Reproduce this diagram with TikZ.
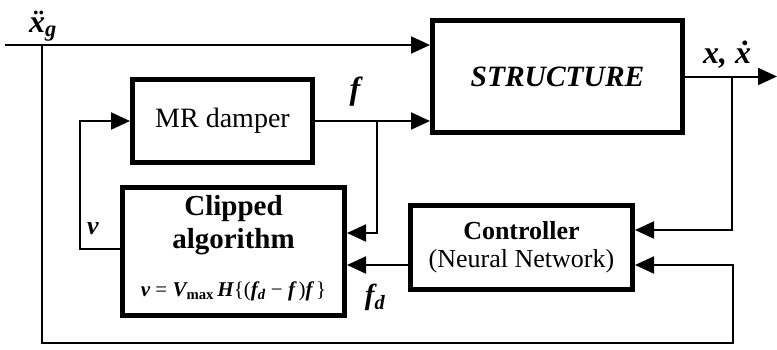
\documentclass[tikz,border=0pt]{standalone}
\usepackage{fontspec}
\setmainfont{Liberation Serif}
\usetikzlibrary{arrows.meta,positioning}
\tikzstyle{block} = [rectangle, 
draw=black, 
line width=5pt, 
inner sep=0pt, 
align=center]
\tikzstyle{arrow} = [line width=2pt,-{Triangle[length=19pt,width=17pt]}]
\tikzstyle{wire} = [line width=2pt]
\tikzstyle{lbl} = [inner sep=0pt, font=\fontsize{32}{34}\selectfont\bfseries\itshape]
\newcommand{\bi}[1]{{\bfseries\itshape #1}}
\begin{document}
\begin{tikzpicture}[x=1pt,y=-1pt]
                \useasboundingbox (0,0) rectangle (777,349);
                \node[block, minimum width=250pt, minimum height=112pt, font=\fontsize{29.5}{32}\selectfont\bfseries\itshape] (stru) at (557.5,76.5) {STRUCTURE};
                \node[block, minimum width=180pt, minimum height=83pt, font=\fontsize{28}{30}\selectfont] (mr) at (222.5,121) {MR damper};
                \node[block, minimum width=222pt, minimum height=128pt, font=\fontsize{29}{33}\selectfont] (clip) at (233.5,251.5) {\bfseries Clipped\\ \bfseries algorithm\\[15pt]
                {\fontsize{21}{24}\selectfont\bi{v} = \bi{V}\textsubscript{\bfseries max}\,\bi{H}\{(\bi{f}\textsubscript{\bi{d}} − \bi{f}\,)\bi{f}\,\}\rule[-11pt]{0pt}{1pt}}};
                \node[block, minimum width=222pt, minimum height=84pt, font=\fontsize{26}{28}\selectfont] (ctrl) at (521.5,247.5) {\bfseries Controller\\ (Neural Network)};

                % signal labels
                \node[lbl] (xg) at (43,26) {\"{x}\textsubscript{\bi{g}}};
                \node[lbl] (xo) at (727,55) {x, \.{x}};
                \node[lbl] (fl) at (355,92) {f};
                \node[lbl, font=\fontsize{26}{28}\selectfont\bfseries\itshape] (vl) at (93,229) {v};
                \node[lbl, font=\fontsize{29}{30}\selectfont\bfseries\itshape] (fd) at (375,297) {f\textsubscript{\bi{d}}};

                \coordinate (gin) at (5,45);
                \coordinate (gb) at (42,45);
                \coordinate (bot) at (733,343);
                \coordinate (out) at (777,76.5);
                \coordinate (ob) at (732,76.5);
                \coordinate (fb) at (377,121);
                \coordinate (vb) at (80,121);

                \draw[arrow] (gin) -- (gin -| stru.west);
                \draw[arrow] (gb) |- (bot) |- (ctrl.east |- 0,265);
                \draw[arrow] (stru.east) -- (out);
                \draw[arrow] (ob) |- (ctrl.east |- 0,230);
                \draw[arrow] (mr.east) -- (mr.east -| stru.west);
                \draw[arrow] (fb) |- (clip.east |- 0,233);
                \draw[arrow] (ctrl.west |- 0,265) -- (clip.east |- 0,265);
                \draw[arrow] (clip.west |- 0,249) -| (vb) -- (mr.west);
\end{tikzpicture}
\end{document}
